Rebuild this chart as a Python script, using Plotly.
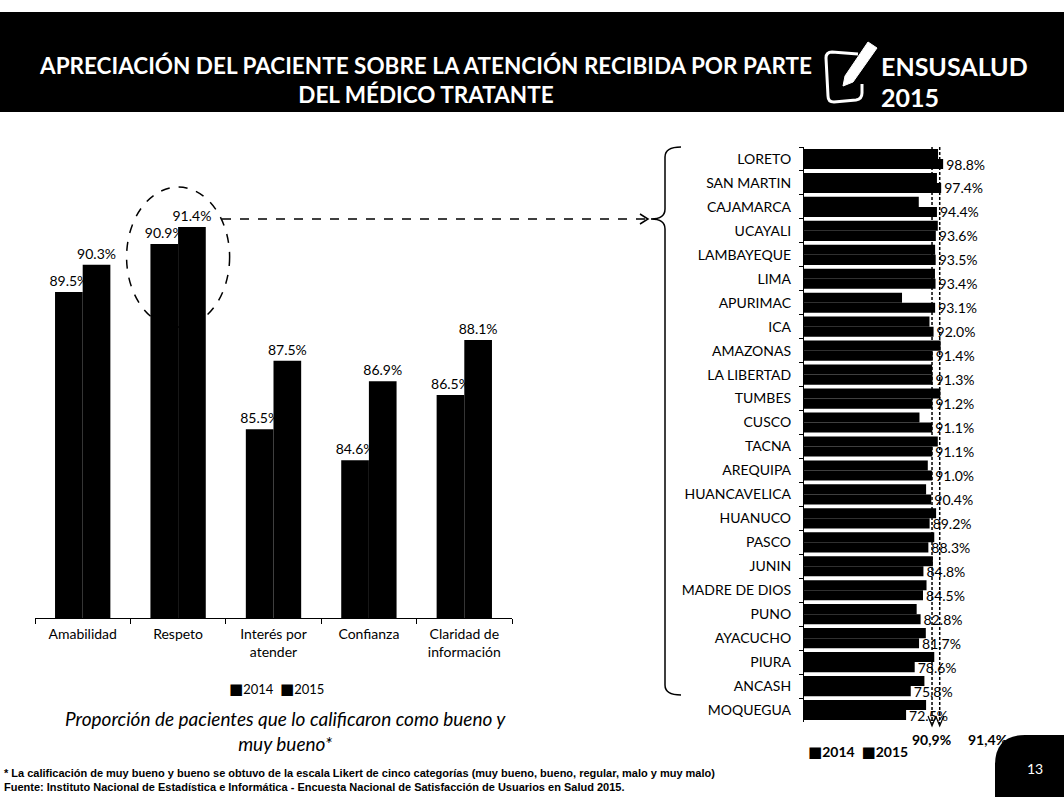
import plotly.graph_objects as go

W, H = 1064, 797

# Left panel: rating per aspect of the consultation (% good / very good)
aspects = ["Amabilidad", "Respeto", "Interés por<br>atender", "Confianza", "Claridad de<br>información"]
aspect_2014 = [89.5, 90.9, 85.5, 84.6, 86.5]
aspect_2015 = [90.3, 91.4, 87.5, 86.9, 88.1]

# Right panel: "Respeto" by region
regions = ["LORETO", "SAN MARTIN", "CAJAMARCA", "UCAYALI", "LAMBAYEQUE", "LIMA", "APURIMAC", "ICA",
           "AMAZONAS", "LA LIBERTAD", "TUMBES", "CUSCO", "TACNA", "AREQUIPA", "HUANCAVELICA", "HUANUCO",
           "PASCO", "JUNIN", "MADRE DE DIOS", "PUNO", "AYACUCHO", "PIURA", "ANCASH", "MOQUEGUA"]
region_2014 = [95.2, 94.4, 81.5, 95.0, 93.1, 93.0, 69.6, 89.1,
               97.0, 91.0, 96.8, 82.0, 95.0, 87.9, 86.7, 93.8,
               92.5, 91.5, 87.0, 80.0, 86.5, 92.5, 85.5, 86.7]
region_2015 = [98.8, 97.4, 94.4, 93.6, 93.5, 93.4, 93.1, 92.0,
               91.4, 91.3, 91.2, 91.1, 91.1, 91.0, 90.4, 89.2,
               88.3, 84.8, 84.5, 82.8, 81.7, 78.6, 75.8, 72.5]

# National averages for "Respeto"
national = {"2014": 90.9, "2015": 91.4}


def px(x):
    return x / W


def py(y):
    return 1 - y / H


FONT = "Lato"
BLACK = "#000000"
SQUARE = '<span style="font-family:DejaVu Sans;font-size:15px">■</span>'

fig = go.Figure()

# ---- left grouped columns
for vals, off in ((aspect_2014, -0.29), (aspect_2015, 0.0)):
    fig.add_trace(go.Bar(
        x=aspects, y=vals, name="2014" if off else "2015", xaxis="x", yaxis="y",
        marker=dict(color=BLACK, line=dict(width=0)), width=0.29, offset=off,
        texttemplate="%{y:.1f}%", textposition="outside", cliponaxis=False, constraintext="none",
        textfont=dict(family=FONT, size=14, color=BLACK), showlegend=False))

# ---- right horizontal bars by region
fig.add_trace(go.Bar(
    y=regions, x=region_2014, name="2014", orientation="h", xaxis="x2", yaxis="y2",
    marker=dict(color=BLACK, line=dict(width=0)), width=0.42, offset=-0.42, showlegend=False))
fig.add_trace(go.Bar(
    y=regions, x=region_2015, name="2015", orientation="h", xaxis="x2", yaxis="y2",
    marker=dict(color=BLACK, line=dict(width=0)), width=0.42, offset=0,
    texttemplate="%{x:.1f}%", textposition="outside", cliponaxis=False, constraintext="none",
    textfont=dict(family=FONT, size=14, color=BLACK), showlegend=False))

shapes = []
annotations = []

# header band
shapes.append(dict(type="rect", xref="paper", yref="paper", x0=0, x1=1, y0=py(112), y1=py(12),
                   fillcolor=BLACK, line=dict(width=0), layer="below"))
annotations.append(dict(
    xref="paper", yref="paper", x=px(425), y=py(80), xanchor="center", yanchor="middle",
    text="<b>APRECIACIÓN DEL PACIENTE SOBRE LA ATENCIÓN RECIBIDA POR PARTE<br>DEL MÉDICO TRATANTE</b>",
    showarrow=False, align="center", font=dict(family=FONT, size=22.5, color="white")))

# survey logo: sheet outline and pen
shapes.append(dict(type="path", xref="paper", yref="paper",
                   path=(f"M {px(858)} {py(54)} L {px(832)} {py(52)} Q {px(826)} {py(52)} {px(826)} {py(58)} "
                         f"L {px(828)} {py(96)} Q {px(828)} {py(102)} {px(834)} {py(102)} "
                         f"L {px(856)} {py(100)} Q {px(862)} {py(99)} {px(862)} {py(93)} L {px(862)} {py(84)}"),
                   line=dict(color="white", width=3)))
shapes.append(dict(type="path", xref="paper", yref="paper",
                   path=(f"M {px(843)} {py(86)} L {px(845)} {py(76)} L {px(868)} {py(42)} "
                         f"L {px(877)} {py(48)} L {px(853)} {py(82)} Z"),
                   fillcolor="white", line=dict(color="white", width=1)))
annotations.append(dict(xref="paper", yref="paper", x=px(879), y=py(66), xanchor="left", yanchor="middle",
                        text="<b>ENSUSALUD</b>", showarrow=False,
                        font=dict(family=FONT, size=25, color="white")))
annotations.append(dict(xref="paper", yref="paper", x=px(879), y=py(97), xanchor="left", yanchor="middle",
                        text="<b>2015</b>", showarrow=False,
                        font=dict(family=FONT, size=25, color="white")))

# dashed ellipse around "Respeto" and dashed arrow to the regional detail
shapes.append(dict(type="circle", xref="x", yref="y", x0=0.46, x1=1.54, y0=88.48, y1=92.56,
                   line=dict(color=BLACK, width=1.5, dash="dash"), layer="below"))
shapes.append(dict(type="line", xref="paper", yref="paper", x0=px(222), x1=px(647), y0=py(219), y1=py(219),
                   line=dict(color=BLACK, width=1.5, dash="dash")))
shapes.append(dict(type="path", xref="paper", yref="paper",
                   path=f"M {px(640)} {py(214)} L {px(648)} {py(219)} L {px(640)} {py(224)}",
                   line=dict(color=BLACK, width=1.5)))

# curly brace in front of the region list
xv, xc, xa = 665, 651, 681
yt, yc, yb = 147, 219, 695
shapes.append(dict(type="path", xref="paper", yref="paper",
                   path=(f"M {px(xa)} {py(yt)} Q {px(xv)} {py(yt)} {px(xv)} {py(yt + 10)} "
                         f"L {px(xv)} {py(yc - 10)} Q {px(xv)} {py(yc)} {px(xc)} {py(yc)} "
                         f"Q {px(xv)} {py(yc)} {px(xv)} {py(yc + 10)} "
                         f"L {px(xv)} {py(yb - 10)} Q {px(xv)} {py(yb)} {px(xa)} {py(yb)}"),
                   line=dict(color=BLACK, width=1.5)))

# national reference lines (second one nudged so both stay visible)
for value, shift in ((national["2014"], 0), (national["2015"], 7)):
    shapes.append(dict(type="line", xref="x2", yref="paper", xsizemode="pixel", xanchor=value,
                       x0=shift, x1=shift, y0=py(147), y1=py(724),
                       line=dict(color=BLACK, width=1.5, dash="3px,2px")))
    shapes.append(dict(type="path", xref="x2", yref="paper", xsizemode="pixel", xanchor=value,
                       path=f"M {shift - 4} {py(716)} L {shift} {py(726)} L {shift + 4} {py(716)}",
                       line=dict(color=BLACK, width=1.2)))
annotations.append(dict(xref="paper", yref="paper", x=px(931), y=py(739), xanchor="center", yanchor="middle",
                        text=f"<b>{national['2014']:.1f}%</b>".replace(".", ","), showarrow=False,
                        font=dict(family=FONT, size=14, color=BLACK)))
annotations.append(dict(xref="paper", yref="paper", x=px(987), y=py(739), xanchor="center", yanchor="middle",
                        text=f"<b>{national['2015']:.1f}%</b>".replace(".", ","), showarrow=False,
                        font=dict(family=FONT, size=14, color=BLACK)))

# legends
annotations.append(dict(xref="paper", yref="paper", x=px(276), y=py(689), xanchor="center", yanchor="middle",
                        text=f"{SQUARE}2014  {SQUARE}2015", showarrow=False,
                        font=dict(family=FONT, size=13, color=BLACK)))
annotations.append(dict(xref="paper", yref="paper", x=px(858), y=py(752), xanchor="center", yanchor="middle",
                        text=f"<b>{SQUARE}2014  {SQUARE}2015</b>", showarrow=False,
                        font=dict(family=FONT, size=14, color=BLACK)))

# caption under the left panel
annotations.append(dict(xref="paper", yref="paper", x=px(285), y=py(731), xanchor="center", yanchor="middle",
                        text="<i>Proporción de pacientes que lo calificaron como bueno y<br>muy bueno*</i>",
                        showarrow=False, align="center", font=dict(family=FONT, size=19, color=BLACK)))

# footnotes
annotations.append(dict(xref="paper", yref="paper", x=px(2), y=py(780), xanchor="left", yanchor="middle",
                        text="<b>* La calificación de muy bueno y bueno se obtuvo de la escala Likert de cinco "
                             "categorías (muy bueno, bueno, regular, malo y muy malo)<br>"
                             "Fuente: Instituto Nacional de Estadística e Informática - Encuesta Nacional de "
                             "Satisfacción de Usuarios en Salud 2015.</b>",
                        showarrow=False, align="left",
                        font=dict(family="Liberation Sans", size=11, color=BLACK)))

# page number tab
shapes.append(dict(type="path", xref="paper", yref="paper",
                   path=(f"M {px(995)} {py(797)} L {px(995)} {py(765)} Q {px(995)} {py(735)} {px(1025)} {py(735)} "
                         f"L {px(1064)} {py(735)} L {px(1064)} {py(797)} Z"),
                   fillcolor=BLACK, line=dict(width=0)))
annotations.append(dict(xref="paper", yref="paper", x=px(1035), y=py(768), xanchor="center", yanchor="middle",
                        text="13", showarrow=False, font=dict(family=FONT, size=14, color="white")))

fig.update_layout(
    width=W, height=H,
    margin=dict(l=0, r=0, t=0, b=0),
    paper_bgcolor="white", plot_bgcolor="white",
    barmode="group",
    font=dict(family=FONT, color=BLACK),
    xaxis=dict(domain=[px(35), px(512)], type="category", showgrid=False, zeroline=False,
               showline=True, linecolor=BLACK, linewidth=1.2, ticks="outside", tickson="boundaries",
               ticklen=5, tickcolor=BLACK, ticklabelstandoff=3,
               tickfont=dict(family=FONT, size=14, color=BLACK)),
    yaxis=dict(domain=[py(618), py(172)], range=[80, 93], visible=False),
    xaxis2=dict(domain=[px(804), px(973)], range=[0, 120], visible=False, anchor="y2"),
    yaxis2=dict(domain=[py(722), py(147)], type="category", categoryorder="array", categoryarray=regions,
                autorange="reversed", anchor="x2", showgrid=False, zeroline=False,
                showline=True, linecolor=BLACK, linewidth=1.2, ticks="outside", tickson="boundaries",
                ticklen=4, tickcolor=BLACK, ticklabelstandoff=9,
                tickfont=dict(family=FONT, size=14, color=BLACK)),
    shapes=shapes,
    annotations=annotations,
)

fig.write_html("out.html")
